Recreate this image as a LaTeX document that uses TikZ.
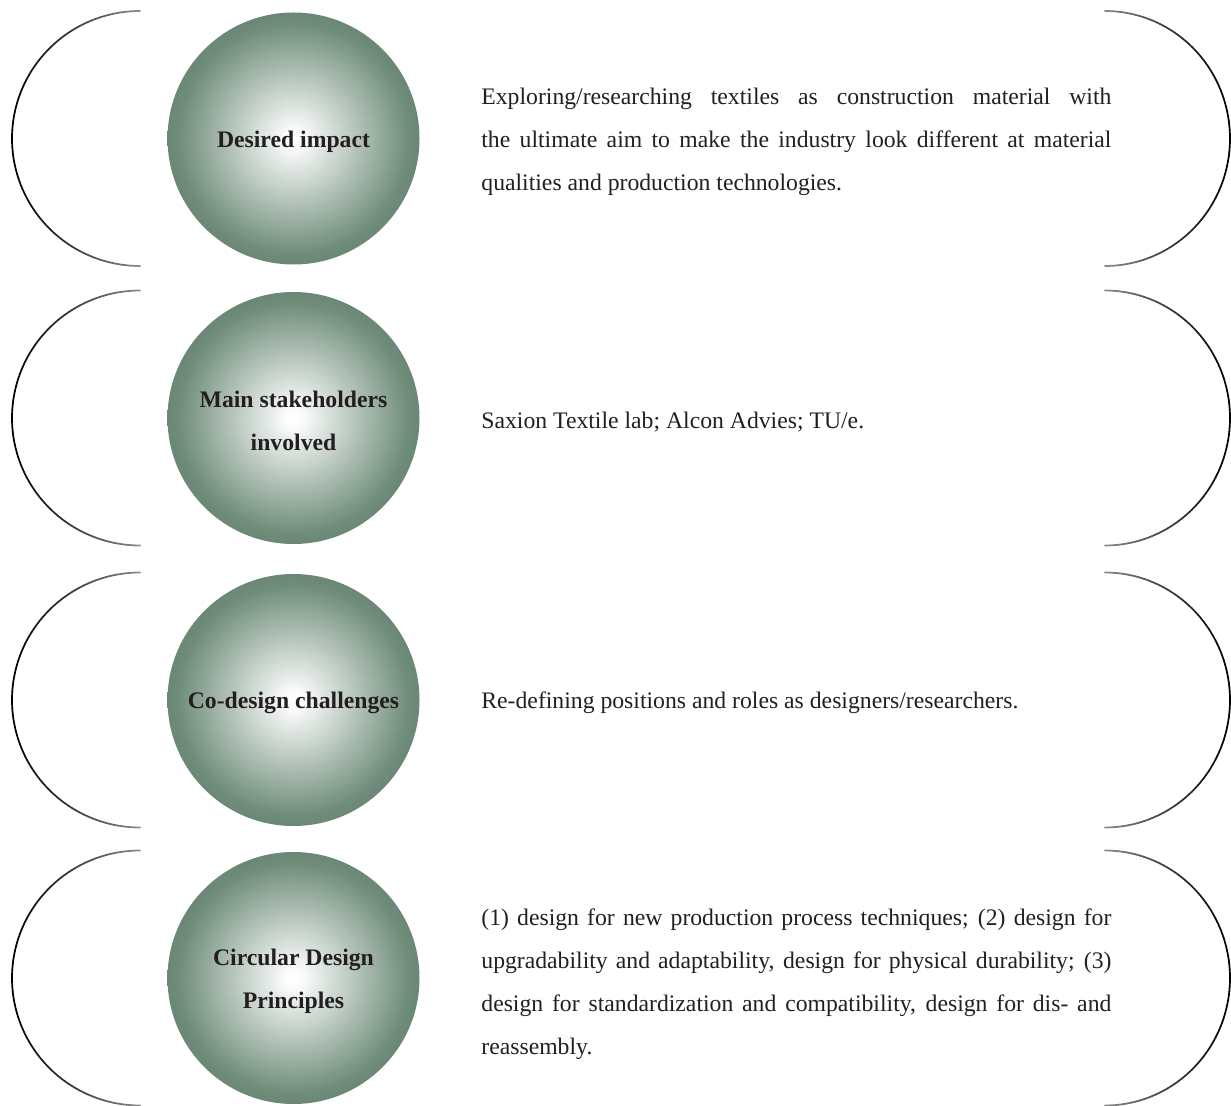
\documentclass[tikz,border=0pt]{standalone}
\usepackage{fontspec}
\setmainfont{Liberation Serif}
\hyphenpenalty=10000
\exhyphenpenalty=10000
\definecolor{ballgreen}{HTML}{6E8C79}
\definecolor{inktext}{HTML}{231F20}
\pgfdeclareradialshading{greenball}{\pgfpoint{0bp}{0bp}}{%
  color(0bp)=(white); color(2bp)=(white!96!ballgreen); color(23bp)=(ballgreen); color(25bp)=(ballgreen!97!black); color(50bp)=(ballgreen!97!black)}
\tikzset{
  ball/.style={circle, minimum size=252pt*0.5, inner sep=0pt, shading=greenball,
    text=inktext, font=\fontsize{11.85pt}{21.5pt}\selectfont\bfseries, align=center},
  balltext/.style={inner sep=0pt, text=inktext, font=\fontsize{11.85pt}{21.5pt}\selectfont\bfseries, align=center},
  desc/.style={anchor=west, inner sep=0pt, text width=315pt, align=justify,
    text=inktext, font=\fontsize{11.85pt}{21.5pt}\selectfont},
}
\newcommand{\leftbracket}[1]{%
  \foreach \a in {90,92,...,268}{%
    \pgfmathsetmacro\kk{100-55*(abs(\a+1-180)/90)^2}%
    \draw[line width=0.85pt, line cap=round, color=black!\kk]
      ({140+128*cos(\a)},{#1+127.5*sin(\a)}) -- ({140+128*cos(\a+2)},{#1+127.5*sin(\a+2)});
  }}
\newcommand{\rightbracket}[1]{%
  \foreach \a in {-90,-88,...,88}{%
    \pgfmathsetmacro\kk{100-55*(abs(\a+1)/90)^2}%
    \draw[line width=0.85pt, line cap=round, color=black!\kk]
      ({1105+125*cos(\a)},{#1+127.5*sin(\a)}) -- ({1105+125*cos(\a+2)},{#1+127.5*sin(\a+2)});
  }}
\begin{document}
\begin{tikzpicture}[x=0.5pt, y=-0.5pt]
\useasboundingbox (0,0) rectangle (1231,1106);
% row 1
\leftbracket{138.5}
\rightbracket{138.5}
\node[ball] (c1) at (293.5,138.5) {};
\node[balltext] (l1) at (293.5,141.5) {Desired impact};
\node[desc] (t1) at (481,141.5) {Exploring/researching textiles as construction material with\linebreak the ultimate aim to make the industry look different at material\linebreak qualities and production technologies.};
% row 2
\leftbracket{418}
\rightbracket{418}
\node[ball] (c2) at (293.5,418) {};
\node[balltext] (l2) at (293.5,420.5) {Main stakeholders\\involved};
\node[desc] (t2) at (481,422) {Saxion Textile lab; Alcon Advies; TU/e.};
% row 3
\leftbracket{700}
\rightbracket{700}
\node[ball] (c3) at (293.5,700) {};
\node[balltext] (l3) at (293.5,702.5) {Co-design challenges};
\node[desc] (t3) at (481,703) {Re-defining positions and roles as designers/researchers.};
% row 4
\leftbracket{978}
\rightbracket{978}
\node[ball] (c4) at (293.5,978) {};
\node[balltext] (l4) at (293.5,981) {Circular Design\\Principles};
\node[desc] (t4) at (481,984) {(1) design for new production process techniques; (2) design for upgradability and adaptability, design for physical durability; (3) design for standardization and compatibility, design for dis- and reassembly.};
\end{tikzpicture}
\end{document}
